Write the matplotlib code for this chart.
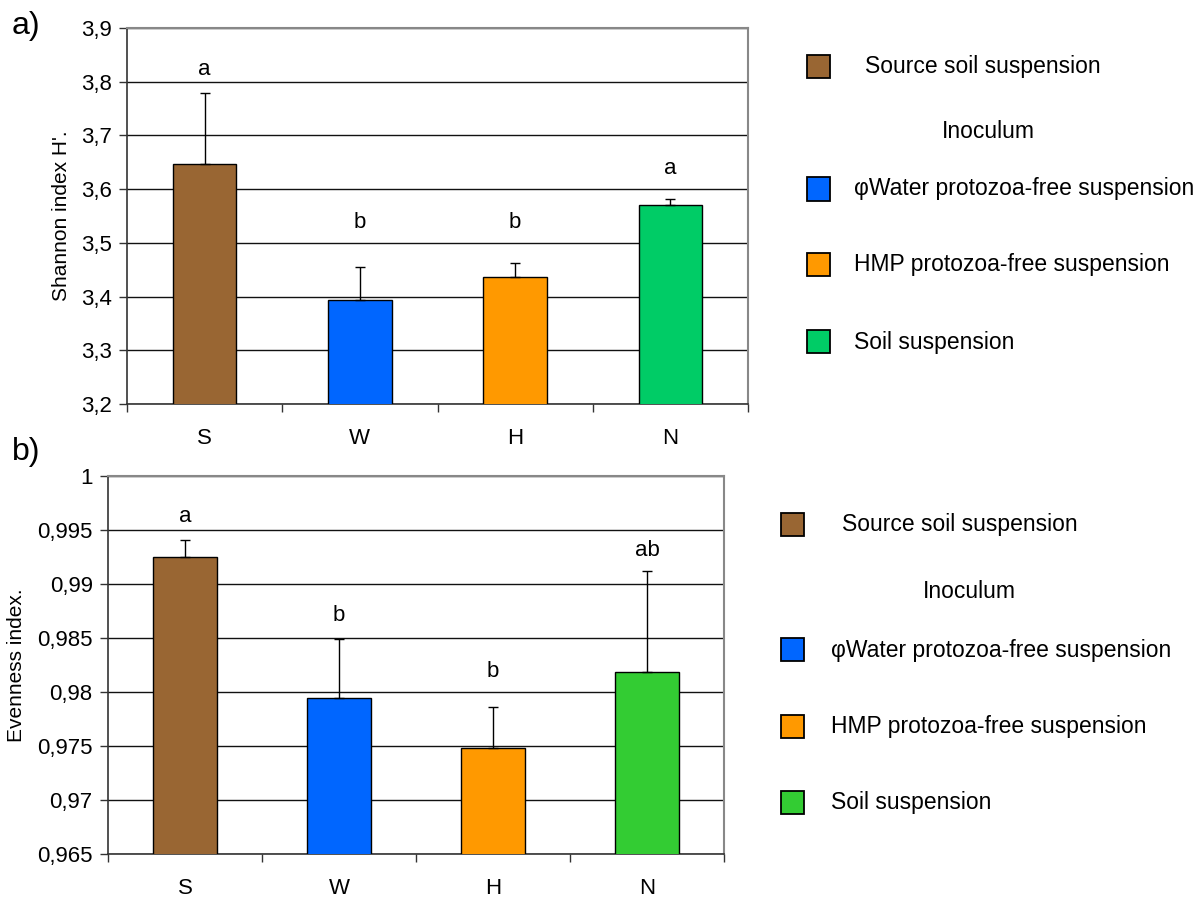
import numpy as np
import matplotlib
matplotlib.use("Agg")
import matplotlib.pyplot as plt
from matplotlib.patches import Rectangle
from matplotlib.ticker import FixedLocator, FuncFormatter

plt.rcParams['font.family'] = ['Liberation Sans', 'DejaVu Sans']

# Treatments
categories = ['S', 'W', 'H', 'N']
legend_labels = ['Source soil suspension', '\u03c6Water protozoa-free suspension',
                 'HMP protozoa-free suspension', 'Soil suspension']

# a) Shannon diversity
shannon_mean = [3.646, 3.393, 3.437, 3.571]
shannon_err = [0.133, 0.062, 0.026, 0.011]
shannon_letters = ['a', 'b', 'b', 'a']
shannon_letter_y = [3.822, 3.537, 3.537, 3.639]
shannon_colors = ['#996633', '#0066FF', '#FF9900', '#00CC66']

# b) Evenness
even_mean = [0.99252, 0.97940, 0.97477, 0.98181]
even_err = [0.00152, 0.00547, 0.00380, 0.00936]
even_letters = ['a', 'b', 'b', 'ab']
even_letter_y = [0.99623, 0.98706, 0.98193, 0.99314]
even_colors = ['#996633', '#0066FF', '#FF9900', '#33CC33']


def comma_fmt(v, pos):
    return ('%g' % round(v, 4)).replace('.', ',')


def draw_panel(ax, means, errs, colors, letters, letter_y, ylim, ystep, ylabel, ylabel_x):
    x = np.arange(len(categories))
    ax.bar(x, means, width=0.41, color=colors, edgecolor='black', linewidth=1.0, zorder=3)
    ax.errorbar(x, means, yerr=[np.zeros(len(errs)), errs], fmt='none', ecolor='black',
                elinewidth=1.0, capsize=3.6, capthick=1.0, zorder=4)
    for xi, lab, ly in zip(x, letters, letter_y):
        ax.text(xi, ly, lab, ha='center', va='center', fontsize=16, zorder=5)

    ax.set_xlim(-0.5, len(categories) - 0.5)
    ax.set_ylim(*ylim)
    yt = np.arange(ylim[0], ylim[1] + ystep / 2, ystep)
    ax.yaxis.set_major_locator(FixedLocator(yt))
    ax.yaxis.set_major_formatter(FuncFormatter(comma_fmt))
    ax.grid(axis='y', color='#111111', linewidth=1.0, zorder=0)

    # category boundaries as ticks, names centred between them
    ax.xaxis.set_major_locator(FixedLocator(np.arange(-0.5, len(categories), 1.0)))
    ax.xaxis.set_minor_locator(FixedLocator(x))
    ax.set_xticklabels([], minor=False)
    ax.set_xticklabels(categories, minor=True)
    ax.tick_params(axis='x', which='major', length=6, width=1, color='#333333')
    ax.tick_params(axis='x', which='minor', length=0, pad=17, labelsize=16)
    ax.tick_params(axis='y', length=6, width=1, color='#333333', pad=5, labelsize=16)

    for side in ['top', 'right']:
        ax.spines[side].set_color('#888888')
        ax.spines[side].set_linewidth(1.5)
    for side in ['left', 'bottom']:
        ax.spines[side].set_color('#333333')
        ax.spines[side].set_linewidth(1.2)

    ax.set_ylabel(ylabel, fontsize=15)
    ax.yaxis.set_label_coords(ylabel_x, 0.5)


def draw_legend(fig, colors, box_x, text_x, inoc_x, rows_y, inoc_y):
    W, H = fig.get_size_inches() * fig.dpi
    size = 23
    for i, (col, lab, ry) in enumerate(zip(colors, legend_labels, rows_y)):
        fig.add_artist(Rectangle(((box_x) / W, 1 - (ry + size / 2) / H), size / W, size / H,
                                 facecolor=col, edgecolor='black', linewidth=1.3,
                                 transform=fig.transFigure))
        tx = text_x + (11 if i == 0 else 0)
        fig.text(tx / W, 1 - ry / H, lab, ha='left', va='center', fontsize=16.5)
    fig.text(inoc_x / W, 1 - inoc_y / H, 'Inoculum', ha='left', va='center', fontsize=16.5)


fig = plt.figure(figsize=(12.03, 8.97), dpi=100)
W, H = 1203, 897

ax1 = fig.add_axes([127 / W, 1 - 404 / H, (748 - 127) / W, (404 - 28) / H])
draw_panel(ax1, shannon_mean, shannon_err, shannon_colors, shannon_letters, shannon_letter_y,
           (3.2, 3.9), 0.1, "Shannon index H'.", -0.09)

ax2 = fig.add_axes([108 / W, 1 - 854 / H, (724 - 108) / W, (854 - 476) / H])
draw_panel(ax2, even_mean, even_err, even_colors, even_letters, even_letter_y,
           (0.965, 1.0), 0.005, 'Evenness index.', -0.133)

draw_legend(fig, shannon_colors, 807, 854, 942, [67, 189, 265, 342], 132)
draw_legend(fig, even_colors, 781, 831, 923, [525, 650, 727, 803], 592)

fig.text(12 / W, 1 - 26 / H, 'a)', ha='left', va='center', fontsize=23)
fig.text(12 / W, 1 - 452 / H, 'b)', ha='left', va='center', fontsize=23)

fig.savefig('out.png', dpi=100)
